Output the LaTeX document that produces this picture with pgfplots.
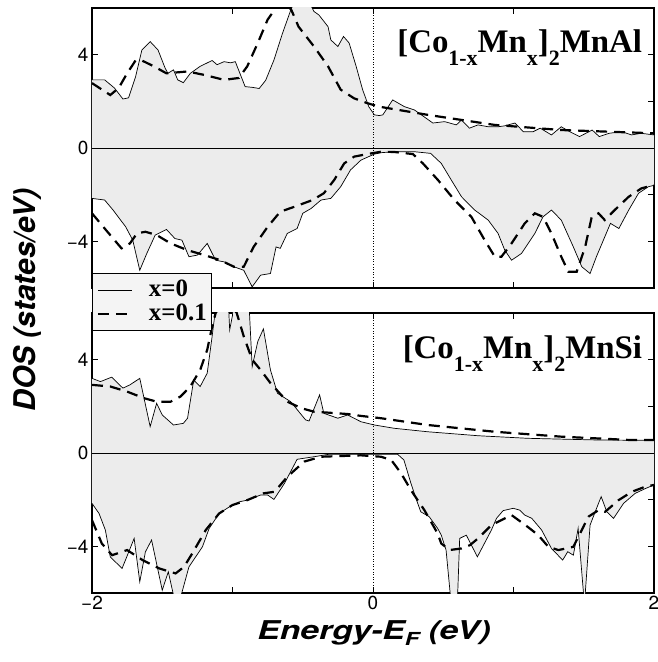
\documentclass[border=0pt]{standalone}
\usepackage{fontspec}
\setmainfont{Liberation Serif}
\newfontfamily\heros{TeX Gyre Heros}
\usepackage{pgfplots}
\pgfplotsset{compat=1.18}
\newcommand\sub[1]{\raisebox{-13bp}{\fontsize{22}{22}\selectfont #1}}
\newcommand\lgfont{\hspace{15bp}\bfseries\fontsize{25}{26}\selectfont}
\definecolor{fillgray}{gray}{0.925}
\pgfplotsset{
  dosax/.style={
    scale only axis, width=562bp, height=280bp,
    xmin=-2, xmax=2, ymin=-6, ymax=6,
    axis line style={line width=1.3bp},
    tick style={line width=0.8bp, black},
    major tick length=6bp, tick align=inside,
    xtick={-2,-1,0,1,2}, ytick={-4,-2,0,2,4},
    yticklabels={−4,,0,,4},
    /pgf/number format/assume math mode=true,
    tick label style={font=\heros\fontsize{19}{22}\selectfont},
    clip=true,
  },
  solidl/.style={black, line width=0.7bp},
  dashl/.style={black, line width=2.2bp, dash pattern=on 11bp off 7bp},
  fillp/.style={fill=fillgray, draw=none, forget plot},
}
\begin{document}
\begin{tikzpicture}
\useasboundingbox (-92bp,-69bp) rectangle (566bp,593bp);
% ---------------- top panel ----------------
\begin{axis}[dosax, at={(0,305bp)}, anchor=south west, xticklabels={}]
\addplot[fillp] coordinates {(-2,2.92) (-1.91,2.92) (-1.84,2.57) (-1.78,2.1) (-1.74,2.15) (-1.69,3.05) (-1.645,4.2) (-1.586,4.56) (-1.53,4.2) (-1.48,3.43) (-1.46,3.2) (-1.42,3.35) (-1.39,2.92) (-1.35,2.8) (-1.30,3.2) (-1.23,3.5) (-1.145,3.75) (-1.11,3.57) (-1.06,3.7) (-1.014,3.65) (-0.98,3.7) (-0.91,2.63) (-0.86,2.6) (-0.81,2.55) (-0.764,2.9) (-0.705,3.77) (-0.645,4.9) (-0.586,5.9) (-0.55,6.4) (-0.5,6.5) (-0.45,6.2) (-0.42,5.85) (-0.385,5.7) (-0.32,5.2) (-0.3,4.63) (-0.25,4.35) (-0.21,4.78) (-0.17,4.5) (-0.12,3.5) (-0.074,2.5) (-0.03,1.77) (0.01,1.42) (0.045,1.39) (0.07,1.42) (0.14,2.06) (0.224,1.77) (0.295,1.63) (0.426,1.07) (0.51,1.13) (0.593,0.99) (0.63,1.2) (0.686,0.85) (0.748,0.99) (0.82,0.91) (0.89,0.91) (0.938,0.95) (1.01,1.07) (1.07,0.7) (1.14,0.7) (1.19,0.85) (1.27,0.56) (1.34,0.91) (1.4,0.7) (1.47,0.49) (1.56,0.77) (1.61,0.49) (1.68,0.63) (1.77,0.7) (1.84,0.56) (1.91,0.63) (2,0.56)} \closedcycle;
\addplot[fillp] coordinates {(-2,-2.16) (-1.91,-2.23) (-1.85,-2.66) (-1.76,-3.38) (-1.71,-3.95) (-1.66,-5.24) (-1.61,-4.52) (-1.55,-3.73) (-1.47,-3.49) (-1.41,-3.88) (-1.36,-3.95) (-1.31,-4.66) (-1.25,-4.59) (-1.18,-4.09) (-1.12,-4.81) (-1.06,-4.88) (-0.99,-5.09) (-0.92,-5.24) (-0.86,-5.95) (-0.8,-5.45) (-0.73,-5.38) (-0.69,-4.24) (-0.66,-4.3) (-0.61,-3.66) (-0.54,-3.45) (-0.5,-2.8) (-0.44,-2.59) (-0.37,-2.23) (-0.3,-2.16) (-0.23,-1.66) (-0.16,-0.94) (-0.086,-0.52) (0.01,-0.26) (0.06,-0.2) (0.15,-0.16) (0.295,-0.16) (0.41,-0.23) (0.486,-0.66) (0.557,-1.37) (0.63,-2.09) (0.724,-2.66) (0.82,-3.09) (0.89,-3.66) (0.938,-4.38) (0.986,-4.81) (1.057,-4.52) (1.152,-3.66) (1.21,-2.95) (1.27,-2.66) (1.34,-3.09) (1.426,-4.24) (1.486,-5.09) (1.545,-5.38) (1.59,-4.66) (1.63,-4.09) (1.69,-3.23) (1.75,-3.45) (1.82,-2.66) (1.89,-1.94) (1.96,-1.66) (2,-1.6)} \closedcycle;
\addplot[black, line width=0.7bp, forget plot] coordinates {(-2,0) (2,0)};
\addplot[black, line width=0.6bp, dotted, forget plot] coordinates {(0,-6) (0,6)};
\addplot[solidl] coordinates {(-2,2.92) (-1.91,2.92) (-1.84,2.57) (-1.78,2.1) (-1.74,2.15) (-1.69,3.05) (-1.645,4.2) (-1.586,4.56) (-1.53,4.2) (-1.48,3.43) (-1.46,3.2) (-1.42,3.35) (-1.39,2.92) (-1.35,2.8) (-1.30,3.2) (-1.23,3.5) (-1.145,3.75) (-1.11,3.57) (-1.06,3.7) (-1.014,3.65) (-0.98,3.7) (-0.91,2.63) (-0.86,2.6) (-0.81,2.55) (-0.764,2.9) (-0.705,3.77) (-0.645,4.9) (-0.586,5.9) (-0.55,6.4) (-0.5,6.5) (-0.45,6.2) (-0.42,5.85) (-0.385,5.7) (-0.32,5.2) (-0.3,4.63) (-0.25,4.35) (-0.21,4.78) (-0.17,4.5) (-0.12,3.5) (-0.074,2.5) (-0.03,1.77) (0.01,1.42) (0.045,1.39) (0.07,1.42) (0.14,2.06) (0.224,1.77) (0.295,1.63) (0.426,1.07) (0.51,1.13) (0.593,0.99) (0.63,1.2) (0.686,0.85) (0.748,0.99) (0.82,0.91) (0.89,0.91) (0.938,0.95) (1.01,1.07) (1.07,0.7) (1.14,0.7) (1.19,0.85) (1.27,0.56) (1.34,0.91) (1.4,0.7) (1.47,0.49) (1.56,0.77) (1.61,0.49) (1.68,0.63) (1.77,0.7) (1.84,0.56) (1.91,0.63) (2,0.56)};
\addplot[solidl] coordinates {(-2,-2.16) (-1.91,-2.23) (-1.85,-2.66) (-1.76,-3.38) (-1.71,-3.95) (-1.66,-5.24) (-1.61,-4.52) (-1.55,-3.73) (-1.47,-3.49) (-1.41,-3.88) (-1.36,-3.95) (-1.31,-4.66) (-1.25,-4.59) (-1.18,-4.09) (-1.12,-4.81) (-1.06,-4.88) (-0.99,-5.09) (-0.92,-5.24) (-0.86,-5.95) (-0.8,-5.45) (-0.73,-5.38) (-0.69,-4.24) (-0.66,-4.3) (-0.61,-3.66) (-0.54,-3.45) (-0.5,-2.8) (-0.44,-2.59) (-0.37,-2.23) (-0.3,-2.16) (-0.23,-1.66) (-0.16,-0.94) (-0.086,-0.52) (0.01,-0.26) (0.06,-0.2) (0.15,-0.16) (0.295,-0.16) (0.41,-0.23) (0.486,-0.66) (0.557,-1.37) (0.63,-2.09) (0.724,-2.66) (0.82,-3.09) (0.89,-3.66) (0.938,-4.38) (0.986,-4.81) (1.057,-4.52) (1.152,-3.66) (1.21,-2.95) (1.27,-2.66) (1.34,-3.09) (1.426,-4.24) (1.486,-5.09) (1.545,-5.38) (1.59,-4.66) (1.63,-4.09) (1.69,-3.23) (1.75,-3.45) (1.82,-2.66) (1.89,-1.94) (1.96,-1.66) (2,-1.6)};
\addplot[dashl] coordinates {(-2,2.78) (-1.87,2.27) (-1.81,2.57) (-1.75,3.2) (-1.69,3.75) (-1.645,3.75) (-1.56,3.5) (-1.47,3.2) (-1.32,3.28) (-1.2,3.13) (-1.06,2.92) (-0.955,3.0) (-0.895,3.5) (-0.82,4.5) (-0.75,5.5) (-0.68,6.1) (-0.63,6.3) (-0.58,5.9) (-0.53,5.2) (-0.42,4.35) (-0.32,3.5) (-0.23,2.5) (-0.135,2.13) (-0.04,1.92) (0.045,1.77) (0.39,1.42) (0.865,0.99) (1.34,0.77) (2,0.63)};
\addplot[dashl] coordinates {(-2,-2.8) (-1.9,-3.52) (-1.79,-4.3) (-1.73,-4.09) (-1.68,-3.66) (-1.62,-3.59) (-1.54,-3.73) (-1.44,-4.09) (-1.32,-4.38) (-1.2,-4.59) (-1.086,-4.81) (-0.99,-5.09) (-0.92,-5.09) (-0.85,-4.24) (-0.75,-3.38) (-0.66,-2.73) (-0.56,-2.52) (-0.43,-2.23) (-0.35,-1.94) (-0.276,-1.37) (-0.205,-0.66) (-0.134,-0.37) (-0.04,-0.26) (0.057,-0.16) (0.15,-0.17) (0.284,-0.26) (0.355,-0.66) (0.462,-1.37) (0.58,-2.23) (0.7,-2.95) (0.795,-3.95) (0.867,-4.66) (0.914,-4.66) (0.986,-4.09) (1.08,-3.23) (1.152,-2.8) (1.21,-2.95) (1.27,-3.66) (1.34,-4.66) (1.39,-5.3) (1.45,-5.3) (1.51,-4.24) (1.557,-2.95) (1.605,-2.8) (1.65,-3.09) (1.72,-2.66) (1.82,-2.09) (1.91,-1.73) (2,-1.59)};
\node[anchor=base east, font=\bfseries\fontsize{33}{33}\selectfont] at (rel axis cs:0.985,0.84) {[Co\sub{1-x}Mn\sub{x}]\sub{2}MnAl};
\end{axis}
% ---------------- bottom panel ----------------
\begin{axis}[dosax, at={(0,0)}, anchor=south west,
  xticklabels={−2,,0,,2},
  legend style={at={(0,1.143)}, anchor=north west, draw=black, line width=1.5bp, fill=fillgray!60,
    inner xsep=4bp, inner ysep=7bp, row sep=5bp,
    nodes={inner sep=1bp, text height=15bp, text depth=2bp}},
  legend cell align=left,
  legend image code/.code={\draw[#1] (0bp,0bp) -- (34bp,0bp);},
]
\addplot[fillp] coordinates {(-2,3.2) (-1.94,3.06) (-1.86,3.25) (-1.78,2.78) (-1.73,2.92) (-1.66,3.2) (-1.586,1.13) (-1.54,2.13) (-1.5,1.63) (-1.42,1.2) (-1.35,1.27) (-1.32,1.49) (-1.276,3.13) (-1.23,2.85) (-1.18,3.42) (-1.145,5.0) (-1.12,6.2) (-1.06,7) (-1.03,6.5) (-1.02,5.28) (-1.0,5.9) (-0.99,6.8) (-0.9,6.8) (-0.88,6.1) (-0.86,3.7) (-0.82,4.78) (-0.78,5.32) (-0.73,3.56) (-0.68,2.56) (-0.586,2.2) (-0.48,1.42) (-0.455,1.37) (-0.38,2.49) (-0.35,1.7) (-0.25,1.49) (-0.18,1.63) (-0.086,1.34) (0.01,1.2) (0.15,1.06) (0.39,0.91) (0.748,0.74) (1.1,0.63) (1.58,0.56) (2,0.54)} \closedcycle;
\addplot[fillp] coordinates {(-2,-2.16) (-1.95,-2.59) (-1.905,-3.3) (-1.87,-4.45) (-1.786,-4.95) (-1.70,-3.66) (-1.66,-5.52) (-1.62,-4.24) (-1.576,-3.73) (-1.5,-5.88) (-1.457,-5.09) (-1.416,-6.2) (-1.37,-6.2) (-1.31,-4.88) (-1.214,-4.02) (-1.166,-3.23) (-1.095,-2.59) (-1.02,-2.3) (-0.95,-2.09) (-0.895,-2.02) (-0.8,-1.8) (-0.75,-1.8) (-0.705,-1.99) (-0.63,-1.3) (-0.54,-0.27) (-0.42,-0.16) (-0.32,-0.06) (0.01,-0.06) (0.176,-0.06) (0.22,-0.3) (0.27,-1.3) (0.31,-2.02) (0.34,-2.52) (0.4,-2.73) (0.46,-3.23) (0.486,-3.52) (0.52,-4.16) (0.557,-6.5) (0.6,-6.5) (0.617,-3.66) (0.664,-3.52) (0.743,-4.45) (0.843,-3.3) (0.879,-2.8) (0.926,-2.47) (0.998,-2.37) (1.045,-2.45) (1.08,-2.66) (1.13,-2.8) (1.2,-3.3) (1.27,-4.09) (1.35,-4.59) (1.386,-4.23) (1.426,-4.38) (1.46,-3.23) (1.505,-6.5) (1.545,-3.09) (1.586,-2.45) (1.624,-1.87) (1.664,-2.52) (1.712,-2.8) (1.783,-2.16) (1.866,-1.73) (1.94,-1.52) (2,-1.37)} \closedcycle;
\addplot[black, line width=0.7bp, forget plot] coordinates {(-2,0) (2,0)};
\addplot[black, line width=0.6bp, dotted, forget plot] coordinates {(0,-6) (0,6)};
\addplot[solidl] coordinates {(-2,3.2) (-1.94,3.06) (-1.86,3.25) (-1.78,2.78) (-1.73,2.92) (-1.66,3.2) (-1.586,1.13) (-1.54,2.13) (-1.5,1.63) (-1.42,1.2) (-1.35,1.27) (-1.32,1.49) (-1.276,3.13) (-1.23,2.85) (-1.18,3.42) (-1.145,5.0) (-1.12,6.2) (-1.06,7) (-1.03,6.5) (-1.02,5.28) (-1.0,5.9) (-0.99,6.8) (-0.9,6.8) (-0.88,6.1) (-0.86,3.7) (-0.82,4.78) (-0.78,5.32) (-0.73,3.56) (-0.68,2.56) (-0.586,2.2) (-0.48,1.42) (-0.455,1.37) (-0.38,2.49) (-0.35,1.7) (-0.25,1.49) (-0.18,1.63) (-0.086,1.34) (0.01,1.2) (0.15,1.06) (0.39,0.91) (0.748,0.74) (1.1,0.63) (1.58,0.56) (2,0.54)};
\addlegendentry{\lgfont x=0}
\addplot[dashl] coordinates {(-2,2.92) (-1.87,2.85) (-1.75,2.63) (-1.63,2.35) (-1.54,2.2) (-1.44,2.2) (-1.37,2.42) (-1.3,2.85) (-1.23,3.56) (-1.18,4.42) (-1.145,5.42) (-1.12,6.0) (-1.05,6.6) (-0.97,6.0) (-0.92,5.0) (-0.86,4.0) (-0.8,3.56) (-0.73,3.0) (-0.61,2.2) (-0.51,1.92) (-0.42,1.77) (-0.32,1.73) (-0.18,1.67) (-0.086,1.59) (0.057,1.49) (0.39,1.2) (0.867,0.91) (1.34,0.7) (1.82,0.56) (2,0.56)};
\addlegendentry{\lgfont x=0.1}
\addplot[solidl, forget plot] coordinates {(-2,-2.16) (-1.95,-2.59) (-1.905,-3.3) (-1.87,-4.45) (-1.786,-4.95) (-1.70,-3.66) (-1.66,-5.52) (-1.62,-4.24) (-1.576,-3.73) (-1.5,-5.88) (-1.457,-5.09) (-1.416,-6.2) (-1.37,-6.2) (-1.31,-4.88) (-1.214,-4.02) (-1.166,-3.23) (-1.095,-2.59) (-1.02,-2.3) (-0.95,-2.09) (-0.895,-2.02) (-0.8,-1.8) (-0.75,-1.8) (-0.705,-1.99) (-0.63,-1.3) (-0.54,-0.27) (-0.42,-0.16) (-0.32,-0.06) (0.01,-0.06) (0.176,-0.06) (0.22,-0.3) (0.27,-1.3) (0.31,-2.02) (0.34,-2.52) (0.4,-2.73) (0.46,-3.23) (0.486,-3.52) (0.52,-4.16) (0.557,-6.5) (0.6,-6.5) (0.617,-3.66) (0.664,-3.52) (0.743,-4.45) (0.843,-3.3) (0.879,-2.8) (0.926,-2.47) (0.998,-2.37) (1.045,-2.45) (1.08,-2.66) (1.13,-2.8) (1.2,-3.3) (1.27,-4.09) (1.35,-4.59) (1.386,-4.23) (1.426,-4.38) (1.46,-3.23) (1.505,-6.5) (1.545,-3.09) (1.586,-2.45) (1.624,-1.87) (1.664,-2.52) (1.712,-2.8) (1.783,-2.16) (1.866,-1.73) (1.94,-1.52) (2,-1.37)};
\addplot[dashl, forget plot] coordinates {(-2,-2.88) (-1.93,-3.88) (-1.857,-4.38) (-1.75,-4.16) (-1.64,-4.59) (-1.52,-4.95) (-1.405,-5.16) (-1.345,-4.88) (-1.286,-4.3) (-1.19,-3.3) (-1.095,-2.59) (-1.0,-2.23) (-0.895,-2.02) (-0.78,-1.73) (-0.7,-1.66) (-0.61,-1.02) (-0.49,-0.37) (-0.37,-0.16) (-0.086,-0.1) (0.057,-0.16) (0.13,-0.3) (0.2,-0.87) (0.27,-1.59) (0.366,-2.45) (0.46,-3.45) (0.486,-3.88) (0.545,-4.16) (0.63,-4.09) (0.69,-3.95) (0.748,-3.66) (0.843,-3.09) (0.986,-2.66) (1.1,-3.16) (1.176,-3.52) (1.248,-4.02) (1.32,-4.16) (1.426,-4.02) (1.486,-3.3) (1.533,-2.73) (1.605,-2.45) (1.652,-2.52) (1.748,-2.02) (1.843,-1.66) (1.94,-1.44) (2,-1.37)};
\node[anchor=base east, font=\bfseries\fontsize{33}{33}\selectfont] at (rel axis cs:0.985,0.838) {[Co\sub{1-x}Mn\sub{x}]\sub{2}MnSi};
\end{axis}
\node[rotate=90, font=\heros\bfseries\itshape\fontsize{30}{30}\selectfont] at (-65bp,293bp) {DOS (states/eV)};
\node at (282bp,-40bp) {\scalebox{1.3}[1]{\heros\bfseries\itshape\fontsize{26}{26}\selectfont Energy-E\raisebox{-0.4ex}{\fontsize{18}{18}\selectfont F} (eV)}};
\end{tikzpicture}
\end{document}
